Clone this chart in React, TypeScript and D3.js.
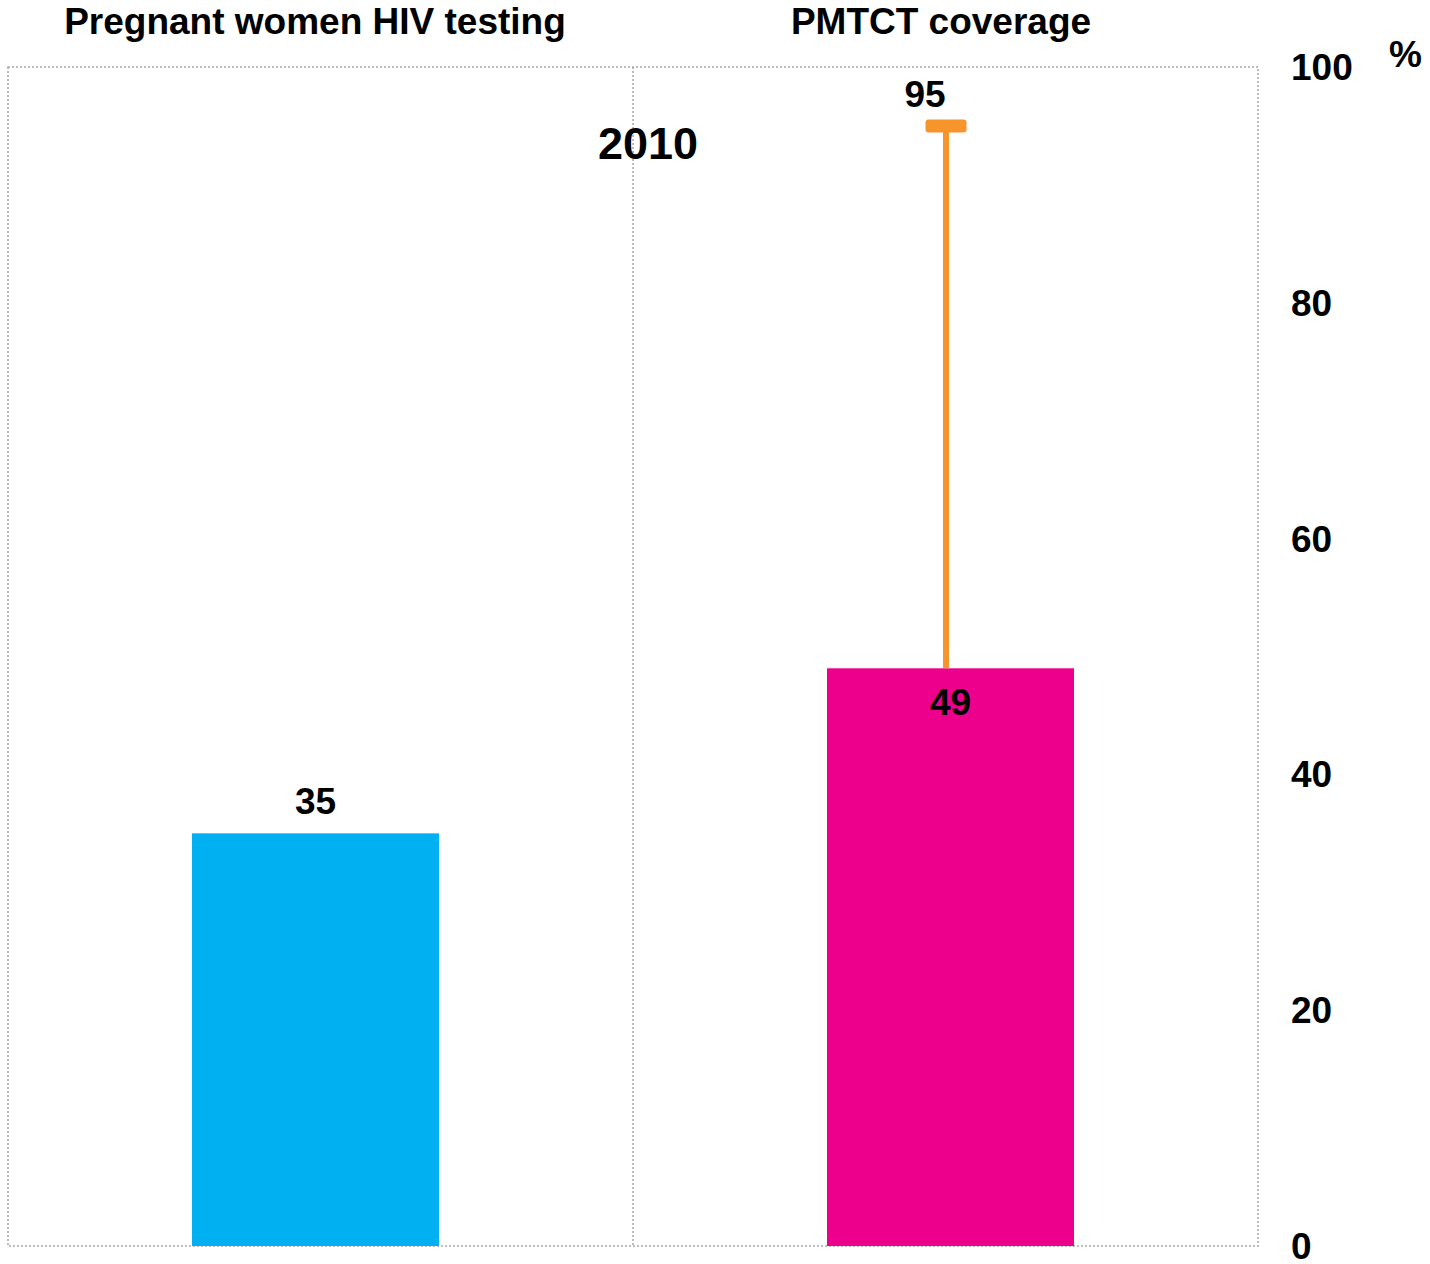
import React from "react";
import * as d3 from "d3";

const categories = ["Pregnant women HIV testing", "PMTCT coverage"];
const values = [35, 49];
const upperBounds = [null, 95];
const yTicks = [0, 20, 40, 60, 80, 100];
const barColors = ["#00B0F0", "#EC008C"];
const yearLabel = "2010";

const W = 1430;
const H = 1264;
const plotLeft = 8;
const plotRight = 1258;
const plotTop = 67;
const plotBottom = 1246;
const FONT = "'Liberation Sans', Arial, sans-serif";

export default function App() {
  const y = d3.scaleLinear().domain([0, 100]).range([plotBottom, plotTop]);
  const x = d3.scaleBand<string>().domain(categories).range([-2, 1268]).padding(0);
  const panel = d3.scaleBand<string>().domain(categories).range([plotLeft, plotRight]).padding(0);
  const barW = 247;
  const dotted = { stroke: "#a6a6a6", strokeWidth: 1.5, strokeDasharray: "2,2", fill: "none" };
  const titleX = [315, 941];
  return (
    <svg width={W} height={H} style={{ display: "block", position: "absolute", left: 0, top: 0 }} fontFamily={FONT}>
      <rect x={0} y={0} width={W} height={H} fill="#fff" />
      {/* frame */}
      <rect x={plotLeft} y={plotTop} width={plotRight - plotLeft} height={plotBottom - plotTop} {...dotted} />
      {categories.slice(1).map((c) => (
        <line key={c} x1={panel(c)!} x2={panel(c)!} y1={plotTop} y2={plotBottom} {...dotted} />
      ))}
      {/* bars */}
      {categories.map((c, i) => {
        const cx = x(c)! + x.bandwidth() / 2;
        return (
          <rect key={c} x={cx - barW / 2} y={y(values[i])} width={barW} height={plotBottom - y(values[i])} fill={barColors[i]} />
        );
      })}
      {/* error bars */}
      {categories.map((c, i) => {
        const ub = upperBounds[i];
        if (ub == null) return null;
        const cx = x(c)! + x.bandwidth() / 2 - 4.5;
        return (
          <g key={c}>
            <line x1={cx} x2={cx} y1={y(values[i])} y2={y(ub)} stroke="#F7942C" strokeWidth={6} />
            <rect x={cx - 20.5} y={y(ub) - 6.5} width={41} height={13} rx={3} fill="#F7942C" />
            <text x={cx - 21} y={y(ub) - 19} textAnchor="middle" fontSize={37} fontWeight="bold" fill="#000">
              {ub}
            </text>
          </g>
        );
      })}
      {/* value labels */}
      {categories.map((c, i) => {
        const cx = x(c)! + x.bandwidth() / 2;
        const inside = i === 1;
        return (
          <text key={c} x={cx} y={inside ? y(values[i]) + 47 : y(values[i]) - 19} textAnchor="middle" fontSize={37} fontWeight="bold" fill="#000">
            {values[i]}
          </text>
        );
      })}
      {/* titles */}
      {categories.map((c, i) => (
        <text key={c} x={titleX[i]} y={34} textAnchor="middle" fontSize={37} fontWeight="bold" fill="#000">
          {c}
        </text>
      ))}
      <text x={648} y={159} textAnchor="middle" fontSize={45} fontWeight="bold" fill="#000">
        {yearLabel}
      </text>
      {/* y axis */}
      {yTicks.map((t) => (
        <text key={t} x={1291} y={y(t)} dy="0.35em" fontSize={37} fontWeight="bold" fill="#000">
          {t}
        </text>
      ))}
      <text x={1389} y={67} fontSize={37} fontWeight="bold" fill="#000">%</text>
    </svg>
  );
}
